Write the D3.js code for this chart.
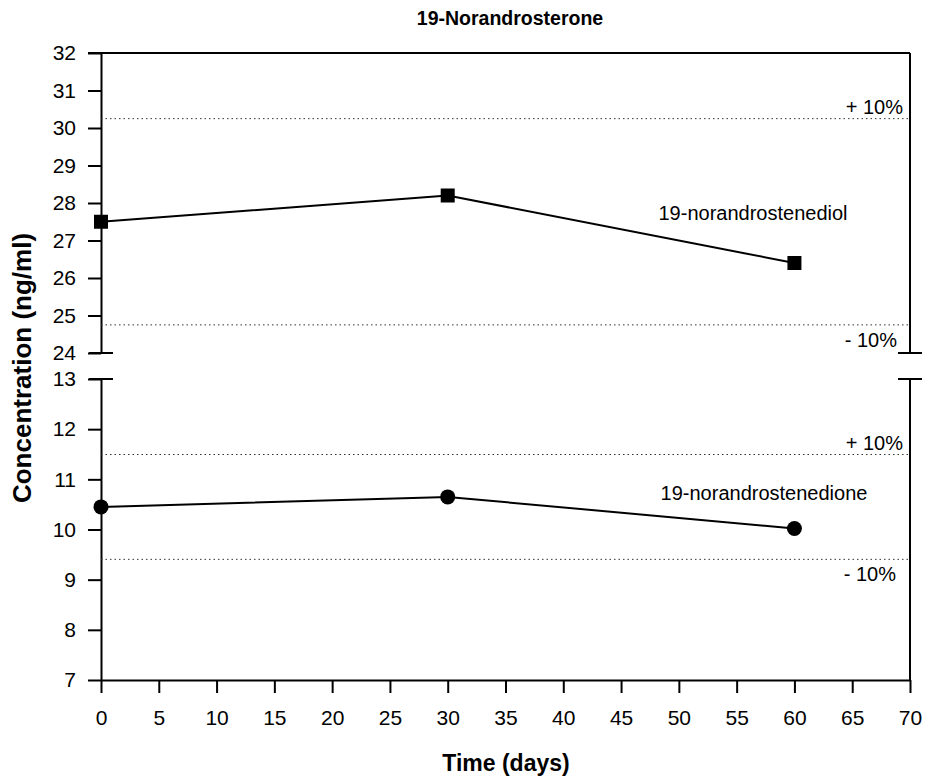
<!DOCTYPE html>
<html>
<head>
<meta charset="utf-8">
<script src="https://cdn.jsdelivr.net/npm/d3@7"></script>
<style>
  body { margin: 0; background: #fff; }
  svg { font-family: "Liberation Sans", Arial, sans-serif; }
</style>
</head>
<body>
<svg id="chart" width="928" height="781"></svg>
<script>
// data
const days = [0, 30, 60];
const diol = [27.5, 28.2, 26.4];       // 19-norandrostenediol
const dione = [10.45, 10.65, 10.02];   // 19-norandrostenedione
const xTicks = d3.range(0, 75, 5);
const topTicks = d3.range(24, 33, 1);
const bottomTicks = d3.range(7, 14, 1);

const svg = d3.select("#chart");

// scales
const x = d3.scaleLinear().domain([0, 70]).range([101, 910]);
const yTop = d3.scaleLinear().domain([24, 32]).range([353, 53]);
const yBot = d3.scaleLinear().domain([7, 13]).range([680, 379]);

const ink = "#000";

function panel(y, ticks, values, shape, label, lx, ly, minusX) {
  const g = svg.append("g");

  // left axis
  g.append("g")
    .attr("transform", `translate(${x(0)},0)`)
    .call(d3.axisLeft(y).tickValues(ticks).tickFormat(d3.format("d"))
      .tickSize(13).tickPadding(12).tickSizeOuter(0))
    .call(a => a.select(".domain").attr("stroke-width", 2))
    .call(a => a.selectAll(".tick line").attr("stroke-width", 2))
    .call(a => a.selectAll("text").attr("font-size", 21).attr("fill", ink));

  // right border
  g.append("line")
    .attr("x1", x(70)).attr("x2", x(70))
    .attr("y1", y.range()[0]).attr("y2", y.range()[1])
    .attr("stroke", ink).attr("stroke-width", 2);

  // dotted +/- 10% lines around the day 0 value
  const base = values[0];
  [1.1, 0.9].forEach(f => {
    g.append("line")
      .attr("x1", x(0)).attr("x2", x(70))
      .attr("y1", y(base * f)).attr("y2", y(base * f))
      .attr("stroke", "#333").attr("stroke-width", 1)
      .attr("stroke-dasharray", "1.5,3");
  });
  g.append("text")
    .attr("x", x(70) - 7).attr("y", y(base * 1.1) - 5)
    .attr("text-anchor", "end").attr("font-size", 20).text("+ 10%");
  g.append("text")
    .attr("x", minusX).attr("y", y(base * 0.9) + 22)
    .attr("text-anchor", "end").attr("font-size", 20).text("- 10%");

  // line
  const line = d3.line().x((d, i) => x(days[i])).y(d => y(d));
  g.append("path")
    .attr("d", line(values))
    .attr("fill", "none").attr("stroke", ink).attr("stroke-width", 2);

  // markers
  if (shape === "square") {
    g.selectAll("rect.m").data(values).join("rect")
      .attr("x", (d, i) => x(days[i]) - 7).attr("y", d => y(d) - 7)
      .attr("width", 14).attr("height", 14).attr("fill", ink);
  } else {
    g.selectAll("circle.m").data(values).join("circle")
      .attr("cx", (d, i) => x(days[i])).attr("cy", d => y(d))
      .attr("r", 7.5).attr("fill", ink);
  }

  g.append("text")
    .attr("x", lx).attr("y", ly)
    .attr("text-anchor", "middle").attr("font-size", 20).text(label);
}

panel(yTop, topTicks, diol, "square", "19-norandrostenediol", 753, 220, 897);
panel(yBot, bottomTicks, dione, "circle", "19-norandrostenedione", 764, 500, 896);

// top border of upper panel
svg.append("line")
  .attr("x1", x(0) - 13).attr("x2", x(70))
  .attr("y1", yTop(32)).attr("y2", yTop(32))
  .attr("stroke", ink).attr("stroke-width", 2);

// axis break marks
[yTop(24), yBot(13)].forEach(yy => {
  [x(0), x(70)].forEach(xx => {
    svg.append("line")
      .attr("x1", xx - 12).attr("x2", xx + 12)
      .attr("y1", yy).attr("y2", yy)
      .attr("stroke", ink).attr("stroke-width", 2);
  });
});

// bottom axis
svg.append("g")
  .attr("transform", `translate(0,${yBot(7)})`)
  .call(d3.axisBottom(x).tickValues(xTicks).tickSize(13).tickPadding(17).tickSizeOuter(0))
  .call(a => a.select(".domain").attr("stroke-width", 2))
  .call(a => a.selectAll(".tick line").attr("stroke-width", 2))
  .call(a => a.selectAll("text").attr("font-size", 21).attr("fill", ink));

// titles
svg.append("text")
  .attr("x", 510).attr("y", 25)
  .attr("text-anchor", "middle").attr("font-size", 19.5).attr("font-weight", "bold")
  .text("19-Norandrosterone");

svg.append("text")
  .attr("x", 506).attr("y", 771)
  .attr("text-anchor", "middle").attr("font-size", 23).attr("font-weight", "bold")
  .text("Time (days)");

svg.append("text")
  .attr("transform", "translate(31,368) rotate(-90)")
  .attr("text-anchor", "middle").attr("font-size", 26).attr("font-weight", "bold")
  .text("Concentration (ng/ml)");
</script>
</body>
</html>
